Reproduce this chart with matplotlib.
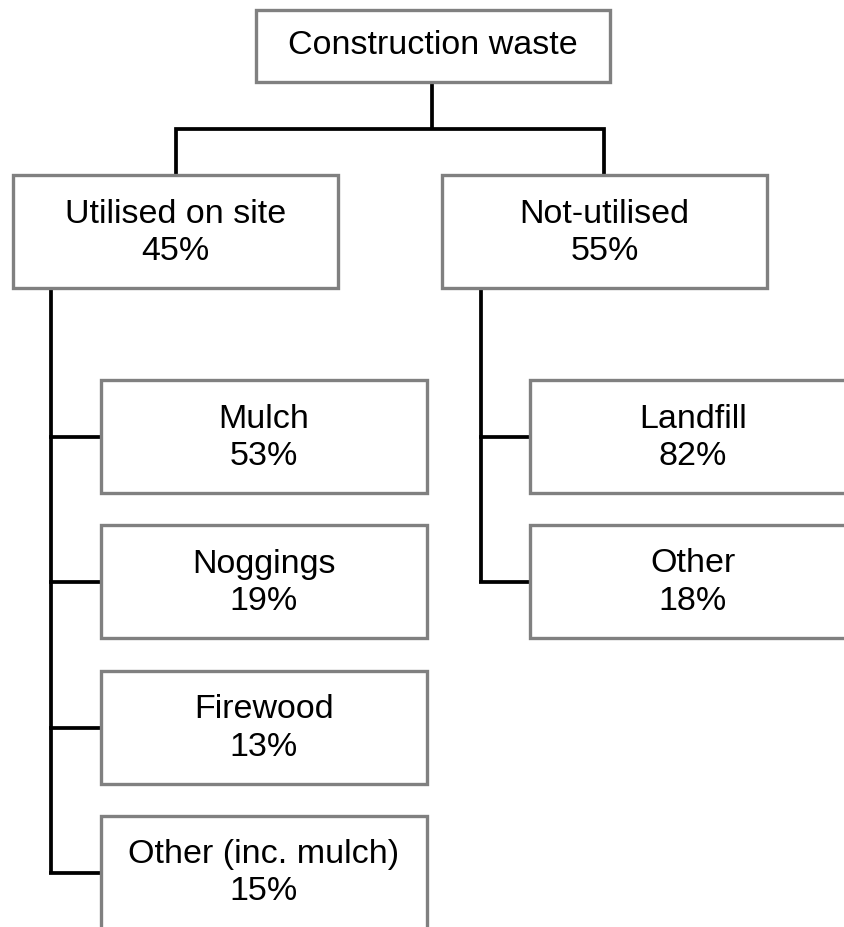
import matplotlib
matplotlib.use("Agg")
import matplotlib.pyplot as plt
from matplotlib.patches import Rectangle

plt.rcParams['font.family'] = ['Liberation Sans', 'DejaVu Sans']

# ---- data ----
root_label = "Construction waste"
level1_labels = ["Utilised on site", "Not-utilised"]
level1_pct = [45, 55]
utilised_labels = ["Mulch", "Noggings", "Firewood", "Other (inc. mulch)"]
utilised_pct = [53, 19, 13, 15]
notutil_labels = ["Landfill", "Other"]
notutil_pct = [82, 18]

# ---- layout (pixels, y down) ----
W, H = 845, 927
fig = plt.figure(figsize=(W / 100, H / 100), dpi=100)
ax = fig.add_axes([0, 0, 1, 1])
ax.set_xlim(0, W)
ax.set_ylim(H, 0)
ax.axis('off')

BOX_EC = '#808080'
LINE_C = '#000000'
LW_BOX = 2.4
LW_LINE = 2.7
FS = 24.5

def box(x0, y0, w, h, text, dy=0):
    r = Rectangle((x0, y0), w, h, facecolor='white', edgecolor=BOX_EC,
                  linewidth=LW_BOX, zorder=3, joinstyle='miter')
    ax.add_patch(r)
    ax.text(x0 + w / 2, y0 + h / 2 + dy, text, ha='center', va='center',
            fontsize=FS, color='#000000', zorder=4, linespacing=1.25)

def line(xs, ys):
    ax.plot(xs, ys, color=LINE_C, linewidth=LW_LINE, zorder=2,
            solid_capstyle='butt', solid_joinstyle='miter')

# root
root = (256, 10, 354, 72)
box(*root, root_label, dy=-1)

# level 1 boxes
l1_boxes = [(13, 175, 325, 113), (442, 175, 325, 113)]
l1_top_x = [176, 604]
line([432, 432], [82, 129])
line([l1_top_x[0], l1_top_x[0], l1_top_x[1], l1_top_x[1]], [175, 129, 129, 175])
for (bx, by, bw, bh), lab, p in zip(l1_boxes, level1_labels, level1_pct):
    box(bx, by, bw, bh, f"{lab}\n{p}%", dy=1)

# utilised children
u_x0, u_w, u_h = 101, 326, 113
u_tops = [380, 525, 671, 816]
spine_x = 51
u_conn = [t + 57 for t in u_tops]
line([spine_x, spine_x], [288, u_conn[-1]])
for t, c, lab, p in zip(u_tops, u_conn, utilised_labels, utilised_pct):
    line([spine_x - 1.5, u_x0], [c, c])
    box(u_x0, t, u_w, u_h, f"{lab}\n{p}%", dy=1)

# not-utilised children
n_x0, n_w, n_h = 530, 326, 113
n_tops = [380, 525]
spine2_x = 481
n_conn = [t + 57 for t in n_tops]
line([spine2_x, spine2_x], [288, n_conn[-1]])
for t, c, lab, p in zip(n_tops, n_conn, notutil_labels, notutil_pct):
    line([spine2_x - 1.5, n_x0], [c, c])
    box(n_x0, t, n_w, n_h, f"{lab}\n{p}%", dy=1)

fig.savefig("out.png", dpi=100, facecolor='white')
